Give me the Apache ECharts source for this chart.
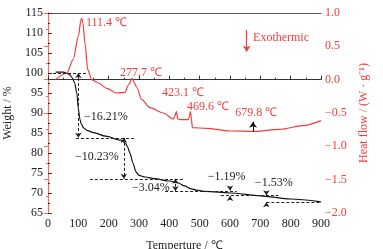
<!DOCTYPE html>
<html style="height: 100%">
<head>
<meta charset="utf-8">
</head>
<body style="height: 100%; margin: 0; background: #fff">
<div id="container" style="width: 383px; height: 249px;"></div>
<script type="text/javascript" src="https://cdn.jsdelivr.net/npm/echarts/dist/echarts.min.js"></script>
<script type="text/javascript">
// TG curve (weight %)
var tgT = [25, 50, 70, 80, 88, 95, 100, 105, 110, 117, 130, 150, 190, 240, 255, 262, 270, 280, 290, 300, 320, 350, 400, 430, 450, 470, 490, 520, 600, 700, 800, 900];
var tgW = [100.2, 100.2, 99.7, 98.8, 97.5, 95, 91, 88.5, 87.2, 86.3, 85.6, 85.1, 84.2, 83.2, 82.5, 81.6, 80, 77.5, 75.3, 74.4, 74.0, 73.6, 73.0, 72.5, 71.8, 71.1, 70.7, 70.4, 70.0, 69.3, 68.5, 67.8];
// DSC curve (heat flow)
var dscT = [25, 62, 83, 100, 109, 111.4, 115, 122, 131, 144, 166, 193, 226, 254, 265, 277.7, 285, 292, 309, 336, 380, 413, 418, 423.1, 428, 440, 463, 466, 469.6, 473, 476, 523, 600, 680, 765, 840, 900];
var dscH = [0.0, 0.1, 0.3, 0.65, 0.9, 0.92, 0.85, 0.55, 0.15, 0.0, -0.05, -0.13, -0.2, -0.19, -0.08, 0.02, -0.05, -0.11, -0.3, -0.42, -0.5, -0.59, -0.55, -0.48, -0.59, -0.6, -0.6, -0.55, -0.48, -0.6, -0.72, -0.73, -0.77, -0.775, -0.745, -0.69, -0.615];

// weight-loss steps
var stepLevels = [100, 83.79, 73.56, 70.52, 69.33, 67.80];
var levelFrom = [0, 92, 138, 386, 570, 720];
var levelTo = [130, 290, 445, 622, 760, 900];
var stepT = [100, 250, 420, 600, 720];
var stepLabels = ['−16.21%', '−10.23%', '−3.04%', '−1.19%', '−1.53%'];
var stepLabelPos = [[119, 89.1], [89, 79.1], [277, 71.25], [527, 74], [682, 72.5]];

// DSC peak labels
var peakLabels = ['111.4 ℃', '277.7 ℃', '423.1 ℃', '469.6 ℃', '679.8 ℃'];
var peakLabelPos = [[125, 0.85], [237, 0.1], [376, -0.2], [458, -0.41], [617, -0.5]];

var red = '#f03c3c';
var font = 'Liberation Serif';

var dom = document.getElementById('container');
var myChart = echarts.init(dom);

var dash = {color: '#222', width: 1, type: [3, 2]};
var tgLines = [];
stepLevels.forEach(function (lv, i) {
    tgLines.push([{coord: [levelFrom[i], lv], symbol: 'none', lineStyle: dash}, {coord: [levelTo[i], lv], symbol: 'none'}]);
});
// double arrows for the big steps
for (var i = 0; i < 3; i++) {
    tgLines.push([{coord: [stepT[i], stepLevels[i]], symbol: 'arrow', lineStyle: dash}, {coord: [stepT[i], stepLevels[i + 1]], symbol: 'arrow'}]);
}
// small steps: arrows pointing in from outside
for (var j = 3; j < 5; j++) {
    var solid = {color: '#222', width: 1, type: 'solid'};
    tgLines.push([{coord: [stepT[j], stepLevels[j] + 1.0], symbol: 'none', lineStyle: solid}, {coord: [stepT[j], stepLevels[j] + 0.1], symbol: 'arrow'}]);
    tgLines.push([{coord: [stepT[j], stepLevels[j + 1] - 1.0], symbol: 'none', lineStyle: solid}, {coord: [stepT[j], stepLevels[j + 1] - 0.1], symbol: 'arrow'}]);
}

var tgPoints = stepLabels.map(function (s, i) {
    return {coord: stepLabelPos[i], value: s, label: {color: '#222'}};
});
var dscPoints = peakLabels.map(function (s, i) {
    return {coord: peakLabelPos[i], value: s};
});
dscPoints.push({coord: [676, 0.625], value: 'Exothermic'});

var dscLines = [
    [{coord: [655, 0.745], symbol: 'none', lineStyle: {color: red, width: 1.2, type: 'solid'}}, {coord: [655, 0.42], symbol: 'arrow'}],
    [{coord: [676, -0.78], symbol: 'none', lineStyle: {color: '#111', width: 1, type: 'solid'}}, {coord: [676, -0.63], symbol: 'arrow'}]
];

var pointLabel = {
    show: true, position: 'inside', align: 'left', verticalAlign: 'middle',
    fontFamily: font, fontSize: 12, formatter: function (p) { return p.value; }
};

var option = {
    animation: false,
    grid: {left: 48, right: 62, top: 13, bottom: 36, outerBoundsMode: 'none', containLabel: false},
    xAxis: [{
        type: 'value', min: 0, max: 900, interval: 100,
        name: 'Temperture / ℃', nameLocation: 'middle', nameGap: 27,
        nameTextStyle: {fontFamily: font, fontSize: 12, color: '#222'},
        axisLine: {lineStyle: {color: '#333', width: 1}},
        axisTick: {inside: true, length: 4, lineStyle: {color: '#333'}},
        minorTick: {show: true, splitNumber: 2, length: 2, lineStyle: {color: '#333'}},
        axisLabel: {margin: 5, fontFamily: font, fontSize: 12, color: '#222'},
        splitLine: {show: false}
    }, {
        type: 'value', min: 0, max: 900, position: 'top',
        axisLine: {lineStyle: {color: '#555', width: 1}},
        axisTick: {show: false}, axisLabel: {show: false}, splitLine: {show: false}
    }],
    yAxis: [{
        type: 'value', min: 65, max: 115, interval: 5,
        name: 'Weight / %', nameLocation: 'middle', nameGap: 23, nameRotate: 90,
        nameTextStyle: {fontFamily: font, fontSize: 12, color: '#222'},
        axisLine: {show: true, lineStyle: {color: '#333', width: 1}},
        axisTick: {inside: true, length: 4, lineStyle: {color: '#333'}},
        minorTick: {show: true, splitNumber: 2, length: 2, lineStyle: {color: '#333'}},
        axisLabel: {margin: 5, fontFamily: font, fontSize: 12, color: '#222'},
        splitLine: {show: false}
    }, {
        type: 'value', min: -2, max: 1, interval: 0.5, position: 'right',
        name: 'Heat flow / (W · g⁻¹)', nameLocation: 'middle', nameGap: 25, nameRotate: 90,
        nameTextStyle: {fontFamily: font, fontSize: 12, color: red},
        axisLine: {show: true, lineStyle: {color: '#f46a6a', width: 1.2}},
        axisTick: {show: true, inside: true, length: 4, lineStyle: {color: '#f46a6a'}},
        minorTick: {show: true, splitNumber: 2, length: 2, lineStyle: {color: '#f46a6a'}},
        axisLabel: {margin: 4, fontFamily: font, fontSize: 12, color: red,
            formatter: function (v) { return v.toFixed(1).replace('-', '−'); }},
        splitLine: {show: false}
    }],
    series: [{
        type: 'line', name: 'TG', yAxisIndex: 0,
        data: tgT.map(function (t, i) { return [t, tgW[i]]; }),
        symbol: 'none', smooth: 0.3, smoothMonotone: 'x',
        lineStyle: {color: '#111', width: 1.2},
        markLine: {silent: true, symbolSize: 5, label: {show: false}, data: tgLines},
        markPoint: {silent: true, symbolSize: 0, label: pointLabel, data: tgPoints}
    }, {
        type: 'line', name: 'DSC', yAxisIndex: 1,
        data: dscT.map(function (t, i) { return [t, dscH[i]]; }),
        symbol: 'none', smooth: 0.3, smoothMonotone: 'x',
        lineStyle: {color: red, width: 1.2},
        markLine: {silent: true, symbolSize: 6, label: {show: false}, data: dscLines},
        markPoint: {silent: true, symbolSize: 0, label: Object.assign({}, pointLabel, {color: red}), data: dscPoints}
    }]
};
myChart.setOption(option);
</script>
</body>
</html>
